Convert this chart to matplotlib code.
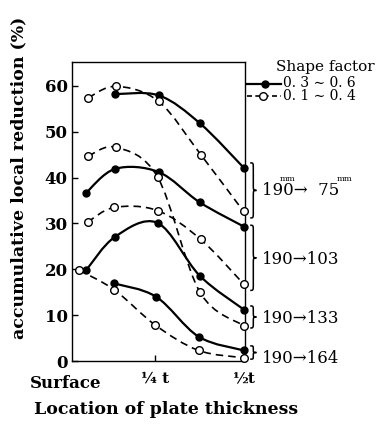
import matplotlib
matplotlib.use("Agg")
import matplotlib.pyplot as plt
import matplotlib.transforms as mtransforms
from matplotlib.path import Path
from matplotlib.patches import PathPatch
from matplotlib.lines import Line2D

plt.rcParams['font.family'] = ['DejaVu Serif', 'DejaVu Sans']

# location through the plate (fraction of thickness t), reduction in %
# shape factor 0.3~0.6 -> solid line, filled marker
# shape factor 0.1~0.4 -> dashed line, open marker
solid_a_x = [0.136, 0.26, 0.376, 0.5]
solid_a_y = [58.2, 57.9, 51.8, 42.1]
dash_a_x = [0.06, 0.139, 0.259, 0.378, 0.499]
dash_a_y = [57.4, 59.9, 56.6, 45.0, 32.6]

solid_b_x = [0.053, 0.136, 0.259, 0.375, 0.5]
solid_b_y = [36.6, 41.9, 41.2, 34.6, 29.3]
dash_b_x = [0.06, 0.139, 0.256, 0.375, 0.499]
dash_b_y = [44.7, 46.6, 40.1, 15.1, 7.7]

dash_c_x = [0.058, 0.134, 0.256, 0.378, 0.499]
dash_c_y = [30.3, 33.5, 32.8, 26.5, 16.8]
solid_c_x = [0.054, 0.136, 0.256, 0.375, 0.5]
solid_c_y = [19.8, 27.1, 30.1, 18.6, 11.2]

solid_d_x = [0.134, 0.252, 0.372, 0.5]
solid_d_y = [16.9, 14.0, 5.3, 2.3]
dash_d_x = [0.034, 0.134, 0.25, 0.372, 0.499]
dash_d_y = [19.8, 15.5, 7.8, 2.3, 0.7]

start_mm = 190
final_mm = [75, 103, 133, 164]

W, H = 379, 424
fig = plt.figure(figsize=(W / 100, H / 100), dpi=100)
ax = fig.add_axes([72 / W, 1 - 361 / H, 173 / W, 299 / H])


def px(x, y):
    return x / W, 1 - y / H


def smooth_path(xs, ys):
    # catmull-rom through the points, drawn as cubic beziers
    pts = list(zip(xs, ys))
    verts = [pts[0]]
    codes = [Path.MOVETO]
    for i in range(len(pts) - 1):
        p0 = pts[max(i - 1, 0)]
        p1 = pts[i]
        p2 = pts[i + 1]
        p3 = pts[min(i + 2, len(pts) - 1)]
        c1 = (p1[0] + (p2[0] - p0[0]) / 6, p1[1] + (p2[1] - p0[1]) / 6)
        c2 = (p2[0] - (p3[0] - p1[0]) / 6, p2[1] - (p3[1] - p1[1]) / 6)
        verts += [c1, c2, p2]
        codes += [Path.CURVE4] * 3
    return Path(verts, codes)


def draw_series(xs, ys, filled):
    ls = '-' if filled else (0, (4.5, 3))
    lw = 1.6 if filled else 1.2
    ax.add_patch(PathPatch(smooth_path(xs, ys), fill=False, lw=lw,
                           ls=ls, color='black', zorder=2))
    ax.plot(xs, ys, 'o', ms=5 if filled else 5.5,
            mfc='black' if filled else 'white', mec='black',
            mew=1.0, zorder=3, clip_on=False)


for xs, ys in [(solid_a_x, solid_a_y), (solid_b_x, solid_b_y),
               (solid_c_x, solid_c_y), (solid_d_x, solid_d_y)]:
    draw_series(xs, ys, True)
for xs, ys in [(dash_a_x, dash_a_y), (dash_b_x, dash_b_y),
               (dash_c_x, dash_c_y), (dash_d_x, dash_d_y)]:
    draw_series(xs, ys, False)

ax.set_xlim(0.014, 0.503)
ax.set_ylim(0, 65.2)
ax.set_yticks([0, 10, 20, 30, 40, 50, 60])
ax.set_xticks([0.25, 0.5])
ax.set_xticklabels(['¼ t', '½t'])
ax.tick_params(direction='in', length=4, width=1, pad=3)
ax.tick_params(axis='y', labelsize=12)
ax.tick_params(axis='x', labelsize=11, pad=8)
for lab in ax.get_yticklabels() + ax.get_xticklabels():
    lab.set_fontweight('bold')
for sp in ax.spines.values():
    sp.set_linewidth(1.0)

# braces grouping the end points by rolling schedule
trans = mtransforms.blended_transform_factory(ax.transAxes, ax.transData)
brace_top = [43.2, 29.6, 12.0, 3.3]
brace_bot = [31.2, 15.4, 7.2, 0.4]
label_y = [37.2, 22.2, 9.3, 0.6]


def brace(y_top, y_bot, x0=1.03, w=0.036):
    xm = x0 + w / 2
    ym = (y_top + y_bot) / 2
    r = min(1.3, (y_top - y_bot) / 4)
    verts = [(x0, y_top), (xm, y_top), (xm, y_top), (xm, y_top - r),
             (xm, ym + r),
             (xm, ym), (xm, ym), (x0 + w, ym),
             (xm, ym), (xm, ym), (xm, ym - r),
             (xm, y_bot + r),
             (xm, y_bot), (xm, y_bot), (x0, y_bot)]
    codes = ([Path.MOVETO] + [Path.CURVE4] * 3 + [Path.LINETO]
             + [Path.CURVE4] * 6 + [Path.LINETO] + [Path.CURVE4] * 3)
    ax.add_patch(PathPatch(Path(verts, codes), fill=False, lw=1.1,
                           color='black', transform=trans, clip_on=False))


for yt, yb, yl, mm in zip(brace_top, brace_bot, label_y, final_mm):
    brace(yt, yb)
    txt = f'{start_mm}→  {mm}' if mm < 100 else f'{start_mm}→{mm}'
    ax.text(1.098, yl, txt, transform=trans, ha='left', va='center',
            fontsize=12)

fig.text(*px(288, 179), 'mm', fontsize=6, ha='center', va='center')
fig.text(*px(345, 179), 'mm', fontsize=6, ha='center', va='center')

# legend
fig.text(*px(325, 67), 'Shape factor', fontsize=11, ha='center', va='center')
fig.add_artist(Line2D([247 / W, 281 / W], [1 - 84 / H] * 2, color='black',
                      lw=1.6, transform=fig.transFigure))
fig.add_artist(Line2D([265 / W], [1 - 84 / H], marker='o', ms=5,
                      color='black', transform=fig.transFigure))
fig.add_artist(Line2D([247 / W, 281 / W], [1 - 96 / H] * 2, color='black',
                      lw=1.2, ls=(0, (3, 2)), transform=fig.transFigure))
fig.add_artist(Line2D([263 / W], [1 - 96 / H], marker='o', ms=5.5, mfc='white',
                      mec='black', mew=1.0, transform=fig.transFigure))
fig.text(*px(283, 83), '0. 3 ∼ 0. 6', fontsize=10, ha='left', va='center')
fig.text(*px(283, 96), '0. 1 ∼ 0. 4', fontsize=10, ha='left', va='center')

fig.text(*px(66, 384), 'Surface', fontsize=12, fontweight='bold',
         ha='center', va='center')
fig.text(*px(166, 409), 'Location of plate thickness', fontsize=12.5,
         fontweight='bold', ha='center', va='center')
fig.text(*px(19, 178), 'accumulative local reduction (%)', fontsize=12.5,
         fontweight='bold', rotation=90, ha='center', va='center')

fig.savefig('out.png', dpi=100)
